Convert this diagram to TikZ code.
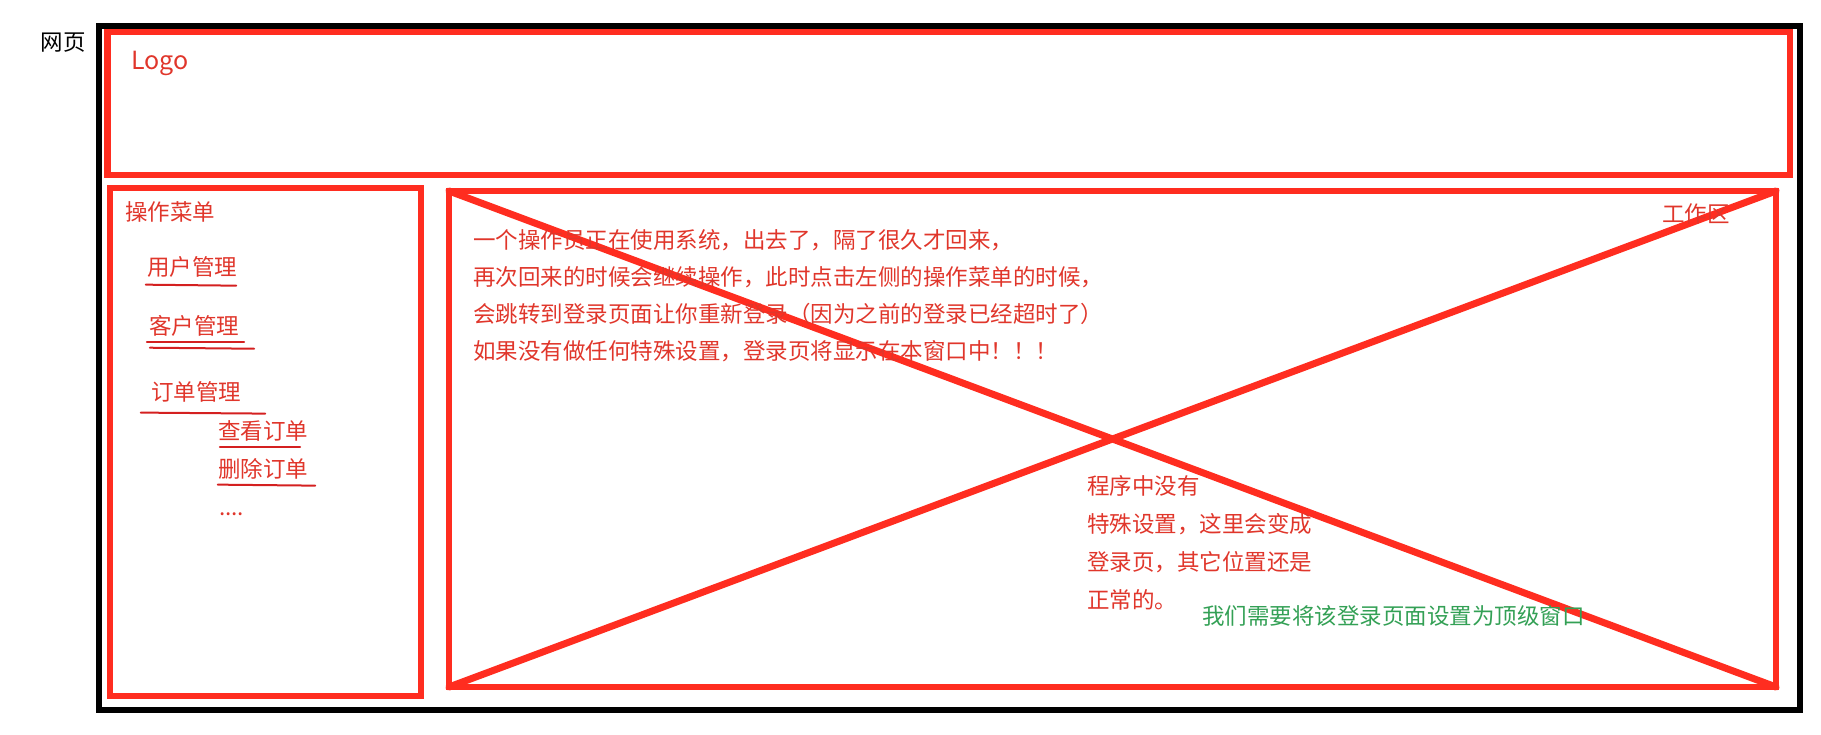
\documentclass[tikz,border=0pt]{standalone}
\usepackage{fontspec}
\setmainfont{Noto Sans CJK SC}
\usetikzlibrary{calc}
\definecolor{boxred}{HTML}{FF2D20}
\definecolor{txtred}{HTML}{E0362B}
\definecolor{linered}{HTML}{D42020}
\definecolor{okgreen}{HTML}{33A055}

\begin{document}
\begin{tikzpicture}[x=1pt, y=-1pt,
  frame/.style={draw=boxred, line width=6.5pt, inner sep=0pt, outer sep=0pt},
  lbl/.style={text=txtred, inner sep=0pt, font=\fontsize{22.5}{37}\selectfont},
  uline/.style={draw=linered, line width=2pt, line cap=round}]
  \useasboundingbox (0,0) rectangle (1821,735);
  \node[draw=black, line width=6pt, inner sep=0pt, outer sep=0pt,
    minimum width=1701pt, minimum height=684pt] (page) at (949.5,368) {};
  \node[frame, minimum width=1682.5pt, minimum height=143pt] (logobox) at (948.75,103.5) {};
  \node[frame, minimum width=311pt, minimum height=508pt] (menu) at (265.5,442) {};
  \node[frame, minimum width=1327pt, minimum height=496pt] (work) at (1112.5,439) {};
  \draw[boxred, line width=7pt, line cap=round] (work.north west) -- (work.south east);
  \draw[boxred, line width=7pt, line cap=round] (work.south west) -- (work.north east);

  \node[lbl, text=black] (pagelbl) at (63,43) {网页};
  \node[lbl, font=\fontsize{25}{28}\selectfont] (logo) at (160,63) {Logo};
  \node[lbl] (menulbl) at (170,212) {操作菜单};
  \node[lbl] (user) at (192,267) {用户管理};
  \node[lbl] (cust) at (194,326) {客户管理};
  \node[lbl] (order) at (196,392) {订单管理};
  \node[lbl] (view) at (263,431) {查看订单};
  \node[lbl] (del) at (263,469) {删除订单};
  \node[lbl, anchor=base west] (more) at (219,515) {....};
  \draw[uline] ($(user.south west)+(-1,7)$) -- ($(user.south east)+(-1,8)$);
  \draw[uline] ($(cust.south west)+(-2,5)$) -- ($(cust.south east)+(5,5)$);
  \draw[uline] ($(cust.south west)+(1,11)$) -- ($(cust.south east)+(15,12)$);
  \draw[uline] ($(order.south west)+(-10,10)$) -- ($(order.south east)+(24,11)$);
  \draw[uline] ($(view.south west)+(2,5)$) -- ($(view.south east)+(-8,5)$);
  \draw[uline] ($(del.south west)+(0,5)$) -- ($(del.south east)+(7,6)$);

  \node[lbl] (worklbl) at (1696,214) {工作区};
  \node[lbl, align=left, anchor=west] (story) at (473,295.5)
    {一个操作员正在使用系统，出去了，隔了很久才回来，\\
     再次回来的时候会继续操作，此时点击左侧的操作菜单的时候，\\
     会跳转到登录页面让你重新登录（因为之前的登录已经超时了）\\
     如果没有做任何特殊设置，登录页将显示在本窗口中！！！};
  \node[lbl, align=left, anchor=west, font=\fontsize{22.5}{38}\selectfont] (note) at (1087,543)
    {程序中没有\\
     特殊设置，这里会变成\\
     登录页，其它位置还是\\
     正常的。};
  \node[lbl, text=okgreen, anchor=west] (fix) at (1202,616) {我们需要将该登录页面设置为顶级窗口};
\end{tikzpicture}
\end{document}
